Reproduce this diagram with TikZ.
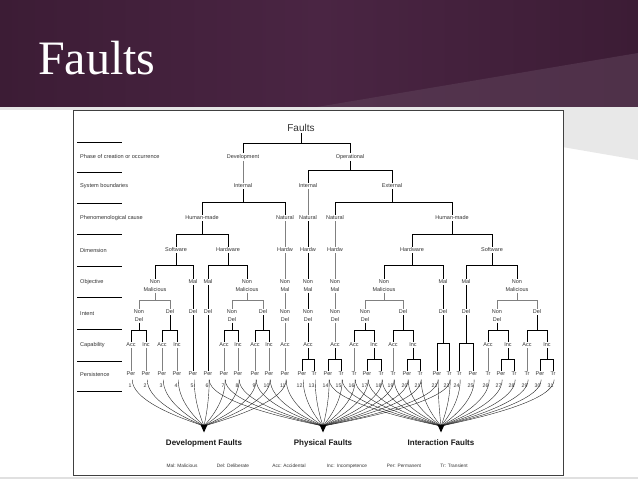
\documentclass[tikz,border=0pt]{standalone}
\usepackage{fontspec}
\setmainfont{Liberation Sans}
\newfontfamily\slidefont{Liberation Serif}
\usetikzlibrary{calc}
\definecolor{banner}{HTML}{3C1C35}
\definecolor{bannerlight}{HTML}{4A2543}
\definecolor{wedge}{HTML}{5C3F57}
\definecolor{ink}{HTML}{333333}
\newcommand{\bra}[5][]{%
  \draw[conn,#1] (#2.south) -- (#2.south |- #5);
  \draw[conn,#1] (#3.north) -- (#3.north |- #5) -- (#4.north |- #5) -- (#4.north);}
\newcommand{\lnk}[3][]{\draw[conn,#1] (#2.south) -- (#3.north);}
\begin{document}
\begin{tikzpicture}[x=1pt,y=-1pt,
  conn/.style={draw=black, line width=0.65pt},
  soft/.style={draw=black!50, line width=0.55pt},
  lab/.style={font=\fontsize{5.5}{7.5}\selectfont, text=ink, inner sep=1pt, align=center},
  rowlab/.style={font=\fontsize{5.6}{7}\selectfont, text=ink, inner sep=0pt, anchor=west},
  num/.style={font=\fontsize{5.2}{6}\selectfont, text=ink, inner sep=0pt, anchor=east},
  flow/.style={draw=black!85, line width=0.4pt},
  group/.style={font=\bfseries\fontsize{8}{9}\selectfont, text=black!90, inner sep=1pt},
  legend/.style={font=\fontsize{4.8}{6}\selectfont, text=ink, inner sep=0pt}]
\useasboundingbox (0,0) rectangle (638,479);
% slide background
\fill[white] (0,0) rectangle (638,479);
\shade[left color=banner, right color=banner, middle color=bannerlight] (0,0) rectangle (638,107);
\fill[wedge, opacity=0.6] (317,107) -- (638,53) -- (638,107) -- cycle;
\fill[black!10] (0,107) rectangle (638,110);
\fill[black!9] (330,107) -- (638,107) -- (638,160) -- cycle;
\fill[black!12] (0,476.5) rectangle (638,479);
\node[anchor=base west, inner sep=0pt, text=white, font=\slidefont\fontsize{48}{50}\selectfont] (slidetitle) at (38,74) {Faults};
% figure frame
\draw[fill=white, draw=black!75, line width=0.8pt] (73,110) rectangle (563,475);
% row separators and labels
\foreach \yy in {142,172,203,234,266,297,329,361,391}
  \draw[line width=0.6pt] (77,\yy) -- (122,\yy);
\node[rowlab] (r1) at (80,156) {Phase of creation or occurrence};
\node[rowlab] (r2) at (80,186) {System boundaries};
\node[rowlab] (r3) at (80,218) {Phenomenological cause};
\node[rowlab] (r4) at (80,250) {Dimension};
\node[rowlab] (r5) at (80,282) {Objective};
\node[rowlab] (r6) at (80,314) {Intent};
\node[rowlab] (r7) at (80,345) {Capability};
\node[rowlab] (r8) at (80,374) {Persistence};
% bracket levels
\coordinate (yA) at (0,143);
\coordinate (yB) at (0,170);
\coordinate (yC) at (0,202);
\coordinate (yD) at (0,234);
\coordinate (yE) at (0,265);
\coordinate (yF) at (0,300);
\coordinate (yG) at (0,330);
\coordinate (yH) at (0,343);
\coordinate (yI) at (0,359);
% tree nodes
\node[lab, font=\fontsize{10}{12}\selectfont] (top) at (301,128) {Faults};
\node[lab] (dev) at (243,157) {Development};
\node[lab] (op) at (350,157) {Operational};
\node[lab] (int1) at (243,186) {Internal};
\node[lab] (int2) at (308,186) {Internal};
\node[lab] (ext) at (392,186) {External};
\node[lab] (hm1) at (202,218) {Human-made};
\node[lab] (nat1) at (285,218) {Natural};
\node[lab] (nat2) at (308,218) {Natural};
\node[lab] (nat3) at (335,218) {Natural};
\node[lab] (hm2) at (452,218) {Human-made};
\node[lab] (sw1) at (176,250) {Software};
\node[lab] (hw1) at (228,250) {Hardware};
\node[lab] (hd1) at (285,250) {Hardw};
\node[lab] (hd2) at (308,250) {Hardw};
\node[lab] (hd3) at (335,250) {Hardw};
\node[lab] (hw2) at (412,250) {Hardware};
\node[lab] (sw2) at (492,250) {Software};
\node[lab] (nm1) at (155,285.75) {Non\\Malicious};
\node[lab] (mal1) at (193,282) {Mal};
\node[lab] (mal2) at (208,282) {Mal};
\node[lab] (nm2) at (247,285.75) {Non\\Malicious};
\node[lab] (nmal1) at (285,285.75) {Non\\Mal};
\node[lab] (nmal2) at (308,285.75) {Non\\Mal};
\node[lab] (nmal3) at (335,285.75) {Non\\Mal};
\node[lab] (nm3) at (384,285.75) {Non\\Malicious};
\node[lab] (mal3) at (443,282) {Mal};
\node[lab] (mal4) at (466,282) {Mal};
\node[lab] (nm4) at (517,285.75) {Non\\Malicious};
\node[lab] (nd1) at (139,315.75) {Non\\Del};
\node[lab] (del1) at (170,312) {Del};
\node[lab] (del2) at (193,312) {Del};
\node[lab] (del3) at (208,312) {Del};
\node[lab] (nd2) at (232,315.75) {Non\\Del};
\node[lab] (del4) at (263,312) {Del};
\node[lab] (nd3) at (285,315.75) {Non\\Del};
\node[lab] (nd4) at (308,315.75) {Non\\Del};
\node[lab] (nd5) at (335,315.75) {Non\\Del};
\node[lab] (nd6) at (365,315.75) {Non\\Del};
\node[lab] (del5) at (403,312) {Del};
\node[lab] (del6) at (443,312) {Del};
\node[lab] (del7) at (466,312) {Del};
\node[lab] (nd7) at (497,315.75) {Non\\Del};
\node[lab] (del8) at (537,312) {Del};
\foreach \n/\x/\t in {a1/131/Acc,i1/146/Inc,a2/162/Acc,i2/177/Inc,a3/224/Acc,i3/238/Inc,
  a4/255/Acc,i4/269/Inc,a5/285/Acc,a6/308/Acc,a7/335/Acc,a8/354/Acc,i5/374/Inc,
  a9/393/Acc,i6/413/Inc,a10/488/Acc,i7/508/Inc,a11/527/Acc,i8/547/Inc}
  \node[lab] (\n) at (\x,345) {\t};
\foreach \i/\x/\t in {1/131/Per,2/146/Per,3/162/Per,4/177/Per,5/193/Per,6/208/Per,
  7/224/Per,8/238/Per,9/255/Per,10/269/Per,11/285/Per,12/302/Per,13/314/Tr,14/328/Per,
  15/341/Tr,16/354/Tr,17/367/Per,18/381/Tr,19/393/Tr,20/407/Per,21/420/Tr,22/437/Per,
  23/449/Tr,24/459/Tr,25/473/Per,26/488/Tr,27/501/Per,28/514/Tr,29/527/Tr,30/540/Per,31/553/Tr}{
  \node[lab] (p\i) at (\x,374) {\t};
  \node[num] (n\i) at (\x+0.6,386) {\i};
  \coordinate (s\i) at ($(p\i.south)+(1.2,2.5)$);
}
% connectors
\bra{top}{dev}{op}{yA}
\lnk[soft]{dev}{int1}
\bra{op}{int2}{ext}{yB}
\bra{int1}{hm1}{nat1}{yC}
\lnk[soft]{int2}{nat2}
\bra{ext}{nat3}{hm2}{yC}
\bra{hm1}{sw1}{hw1}{yD}
\bra{hm2}{hw2}{sw2}{yD}
\lnk[soft]{nat1}{hd1}
\lnk{nat2}{hd2}
\lnk[soft]{nat3}{hd3}
\bra{sw1}{nm1}{mal1}{yE}
\bra{hw1}{mal2}{nm2}{yE}
\bra{hw2}{nm3}{mal3}{yE}
\bra{sw2}{mal4}{nm4}{yE}
\lnk[soft]{hd1}{nmal1}
\lnk{hd2}{nmal2}
\lnk[soft]{hd3}{nmal3}
\bra[soft]{nm1}{nd1}{del1}{yF}
\bra[soft]{nm2}{nd2}{del4}{yF}
\bra[soft]{nm3}{nd6}{del5}{yF}
\bra[soft]{nm4}{nd7}{del8}{yF}
\lnk{mal1}{del2}
\lnk{mal2}{del3}
\lnk{mal3}{del6}
\lnk{mal4}{del7}
\lnk[soft]{nmal1}{nd3}
\lnk{nmal2}{nd4}
\lnk[soft]{nmal3}{nd5}
\bra{nd1}{a1}{i1}{yG}
\bra{del1}{a2}{i2}{yG}
\bra{nd2}{a3}{i3}{yG}
\bra{del4}{a4}{i4}{yG}
\bra{nd6}{a8}{i5}{yG}
\bra{del5}{a9}{i6}{yG}
\bra{nd7}{a10}{i7}{yG}
\bra{del8}{a11}{i8}{yG}
\lnk[soft]{nd3}{a5}
\lnk{nd4}{a6}
\lnk[soft]{nd5}{a7}
\lnk[soft]{a1}{p1}
\lnk[soft]{i1}{p2}
\lnk[soft]{a2}{p3}
\lnk[soft]{i2}{p4}
\lnk{del2}{p5}
\lnk{del3}{p6}
\lnk[soft]{a3}{p7}
\lnk[soft]{i3}{p8}
\lnk[soft]{a4}{p9}
\lnk[soft]{i4}{p10}
\lnk[soft]{a5}{p11}
\bra{a6}{p12}{p13}{yI}
\bra{a7}{p14}{p15}{yI}
\lnk[soft]{a8}{p16}
\bra{i5}{p17}{p18}{yI}
\lnk[soft]{a9}{p19}
\bra{i6}{p20}{p21}{yI}
\bra{del6}{p22}{p23}{yH}
\bra{del7}{p24}{p25}{yH}
\lnk[soft]{a10}{p26}
\bra{i7}{p27}{p28}{yI}
\lnk[soft]{a11}{p29}
\bra{i8}{p30}{p31}{yI}
% fault groups
\coordinate (devtip) at (204,426);
\coordinate (phytip) at (323,426);
\coordinate (inttip) at (441,426);
\foreach \i in {1,...,11}
  \draw[flow] (s\i) .. controls ($(s\i)+(0,20)$) and ($(devtip)!0.42!(s\i |- devtip)+(0,-10)$) .. (devtip);
\foreach \i in {6,...,23}
  \draw[flow] (s\i) .. controls ($(s\i)+(0,20)$) and ($(phytip)!0.42!(s\i |- phytip)+(0,-10)$) .. (phytip);
\foreach \i in {14,...,31}
  \draw[flow] (s\i) .. controls ($(s\i)+(0,20)$) and ($(inttip)!0.42!(s\i |- inttip)+(0,-10)$) .. (inttip);
\foreach \t in {devtip,phytip,inttip}
  \fill[black] ($(\t)+(-3.6,-1.5)$) -- ($(\t)+(3.6,-1.5)$) -- ($(\t)+(0,6.5)$) -- cycle;
\node[group] (devlab) at (204,443) {Development Faults};
\node[group] (phylab) at (323,443) {Physical Faults};
\node[group] (intlab) at (441,443) {Interaction Faults};
% legend
\node[legend] (lg1) at (182,466) {Mal: Malicious};
\node[legend] (lg2) at (233,466) {Del: Deliberate};
\node[legend] (lg3) at (289,466) {Acc: Accidental};
\node[legend] (lg4) at (347,466) {Inc:\enspace Incompetence};
\node[legend] (lg5) at (404,466) {Per: Permanent};
\node[legend] (lg6) at (454,466) {Tr: Transient};
\end{tikzpicture}
\end{document}
